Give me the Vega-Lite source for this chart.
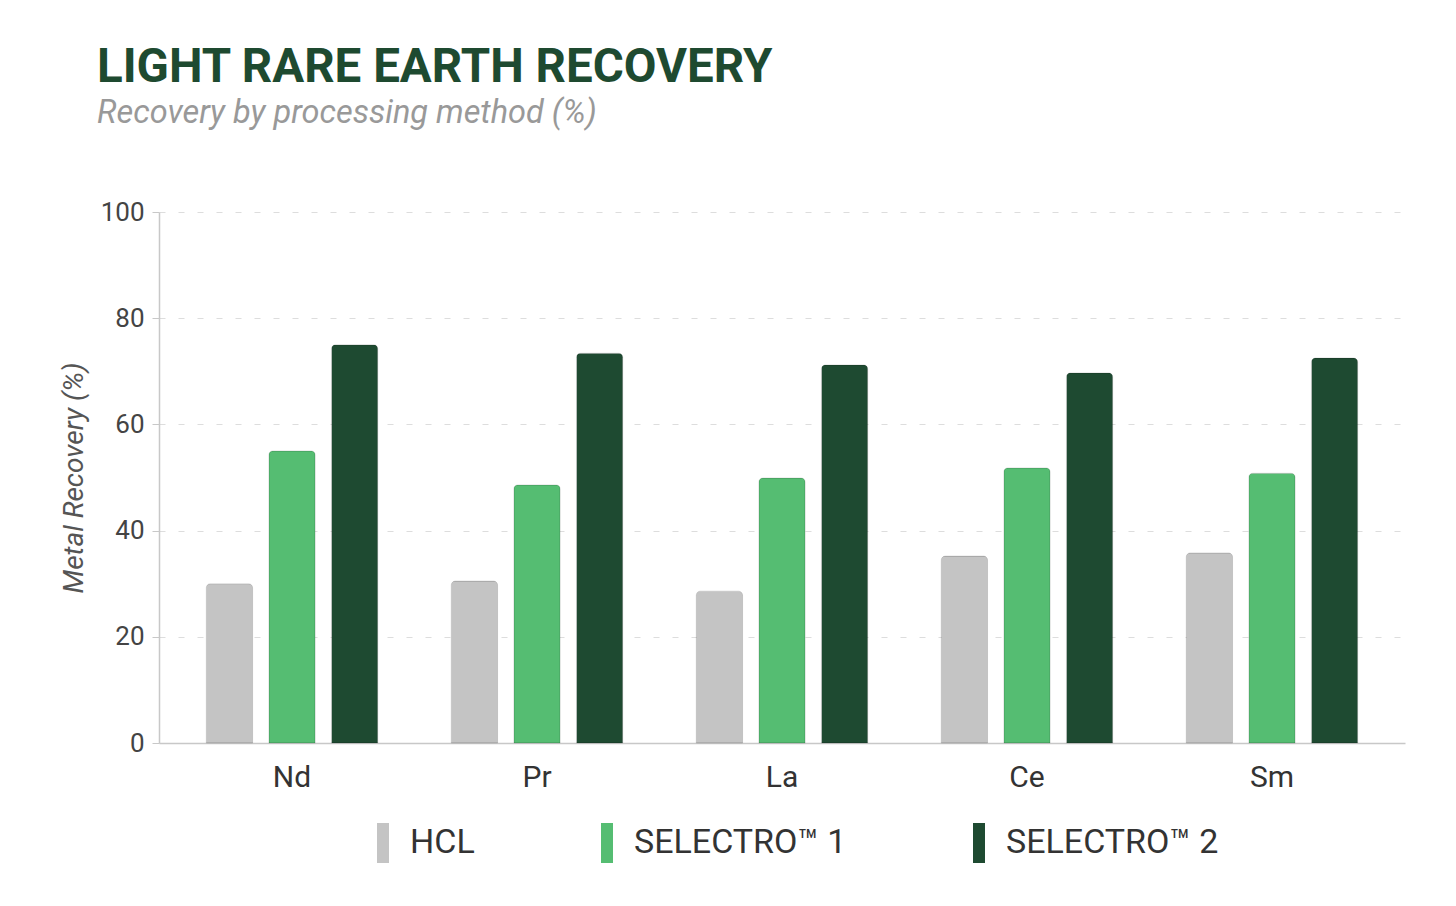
{
  "$schema": "https://vega.github.io/schema/vega-lite/v6.json",
  "width": 1246,
  "height": 531,
  "autosize": "none",
  "padding": {"left": 159, "top": 212, "right": 51, "bottom": 163},
  "background": "white",
  "title": {
    "text": "LIGHT RARE EARTH RECOVERY",
    "subtitle": "Recovery by processing method (%)",
    "anchor": "start",
    "frame": "group",
    "dx": -62,
    "offset": 70,
    "font": "Roboto",
    "fontSize": 47.5,
    "fontWeight": "bold",
    "color": "#1e4a30",
    "subtitleFont": "Roboto",
    "subtitleFontSize": 32.5,
    "subtitleFontStyle": "italic",
    "subtitleColor": "#999999",
    "subtitlePadding": 5
  },
  "data": {
    "values": [
      {"element": "Nd", "method": "HCL", "recovery": 30.0},
      {"element": "Nd", "method": "SELECTRO™ 1", "recovery": 55.0},
      {"element": "Nd", "method": "SELECTRO™ 2", "recovery": 75.0},
      {"element": "Pr", "method": "HCL", "recovery": 30.5},
      {"element": "Pr", "method": "SELECTRO™ 1", "recovery": 48.6},
      {"element": "Pr", "method": "SELECTRO™ 2", "recovery": 73.4},
      {"element": "La", "method": "HCL", "recovery": 28.6},
      {"element": "La", "method": "SELECTRO™ 1", "recovery": 49.9},
      {"element": "La", "method": "SELECTRO™ 2", "recovery": 71.2},
      {"element": "Ce", "method": "HCL", "recovery": 35.2},
      {"element": "Ce", "method": "SELECTRO™ 1", "recovery": 51.8},
      {"element": "Ce", "method": "SELECTRO™ 2", "recovery": 69.7},
      {"element": "Sm", "method": "HCL", "recovery": 35.8},
      {"element": "Sm", "method": "SELECTRO™ 1", "recovery": 50.8},
      {"element": "Sm", "method": "SELECTRO™ 2", "recovery": 72.5}
    ]
  },
  "mark": {
    "type": "bar",
    "cornerRadiusTopLeft": 4,
    "cornerRadiusTopRight": 4,
    "stroke": "black",
    "strokeOpacity": 0.12,
    "strokeWidth": 1
  },
  "encoding": {
    "x": {
      "field": "element",
      "type": "nominal",
      "sort": ["Nd", "Pr", "La", "Ce", "Sm"],
      "scale": {"paddingInner": 0.3, "paddingOuter": 0.193},
      "axis": {
        "title": null,
        "labelAngle": 0,
        "ticks": false,
        "labelFont": "Roboto",
        "labelFontSize": 30,
        "labelColor": "#333333",
        "labelPadding": 19,
        "domainColor": "#c8c8c8",
        "domainWidth": 1.5
      }
    },
    "xOffset": {
      "field": "method",
      "type": "nominal",
      "sort": ["HCL", "SELECTRO™ 1", "SELECTRO™ 2"],
      "scale": {"paddingInner": 0.26, "paddingOuter": 0}
    },
    "y": {
      "field": "recovery",
      "type": "quantitative",
      "scale": {"domain": [0, 100]},
      "axis": {
        "title": "Metal Recovery (%)",
        "titleFont": "Roboto",
        "titleFontSize": 28,
        "titleFontStyle": "italic",
        "titleFontWeight": "normal",
        "titleColor": "#555555",
        "titlePadding": 12,
        "values": [0, 20, 40, 60, 80, 100],
        "labelFont": "Roboto",
        "labelFontSize": 26,
        "labelColor": "#444444",
        "labelPadding": 8,
        "tickSize": 7,
        "tickColor": "#c8c8c8",
        "domainColor": "#c8c8c8",
        "domainWidth": 1.5,
        "gridColor": "#dddddd",
        "gridDash": [6, 13],
        "gridWidth": 1
      }
    },
    "color": {
      "field": "method",
      "type": "nominal",
      "scale": {
        "domain": ["HCL", "SELECTRO™ 1", "SELECTRO™ 2"],
        "range": ["#c4c4c4", "#55bd72", "#1e4a31"]
      },
      "legend": {
        "title": null,
        "orient": "none",
        "direction": "horizontal",
        "legendX": 204,
        "legendY": 611,
        "padding": 0,
        "symbolType": "M-0.3,-1H0.3V1H-0.3Z",
        "symbolSize": 1600,
        "symbolStrokeWidth": 0,
        "symbolOpacity": 1,
        "labelFont": "Roboto",
        "labelFontSize": 34,
        "labelColor": "#333333",
        "labelOffset": 7,
        "labelLimit": 500,
        "columnPadding": 112
      }
    }
  },
  "config": {
    "view": {"stroke": null}
  }
}
